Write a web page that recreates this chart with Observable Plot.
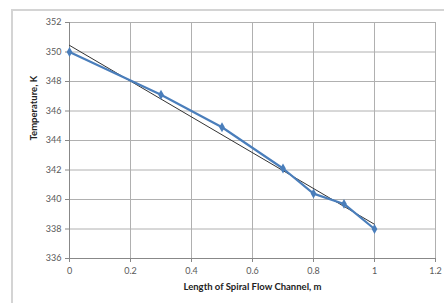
<!DOCTYPE html>
<html>
<head>
<meta charset="utf-8">
<script src="https://cdn.jsdelivr.net/npm/d3@7"></script>
<script src="https://cdn.jsdelivr.net/npm/@observablehq/plot@0.6"></script>
<style>
  html, body { margin: 0; padding: 0; background: #fff; }
  #wrap { position: relative; width: 444px; height: 303px; overflow: hidden; }
  #border { position: absolute; left: 11px; top: 9px; width: 460px; height: 320px; border: 2px solid #d4d4d4; box-sizing: border-box; }
  #chart { position: absolute; left: 0; top: 0; }
</style>
</head>
<body>
<div id="wrap"><div id="border"></div><div id="chart"></div></div>
<script>
const lengths = [0, 0.3, 0.5, 0.7, 0.8, 0.9, 1.0];
const temperatures = [350.0, 347.1, 344.9, 342.1, 340.4, 339.7, 338.0];
const xTicks = [0, 0.2, 0.4, 0.6, 0.8, 1, 1.2];
const yTicks = [336, 338, 340, 342, 344, 346, 348, 350, 352];
const xTitle = "Length of Spiral Flow Channel, m";
const yTitle = "Temperature, K";

const data = lengths.map((x, i) => ({x, y: temperatures[i]}));

const chart = Plot.plot({
  width: 444,
  height: 303,
  marginLeft: 69,
  marginRight: 9,
  marginTop: 22,
  marginBottom: 45,
  style: {fontFamily: "Lato, 'Open Sans', sans-serif", fontSize: "9px", background: "transparent", color: "#595959"},
  x: {domain: [0, 1.2], ticks: xTicks, tickFormat: d => String(d), tickSize: 4, label: null},
  y: {domain: [336, 352], ticks: yTicks, tickSize: 4, tickPadding: 4, label: null},
  marks: [
    Plot.gridX(xTicks, {stroke: "#b0b0b0", strokeOpacity: 1, strokeWidth: 1}),
    Plot.gridY(yTicks, {stroke: "#b0b0b0", strokeOpacity: 1, strokeWidth: 1}),
    Plot.axisX({ticks: xTicks, tickFormat: d => String(d), tickSize: 4, tickPadding: 5, stroke: "#888", fill: "#595959", label: null}),
    Plot.axisY({ticks: yTicks, tickSize: 4, tickPadding: 4, stroke: "#888", fill: "#595959", label: null}),
    Plot.ruleY([336], {stroke: "#888"}),
    Plot.ruleX([0], {stroke: "#888"}),
    Plot.linearRegressionY(data, {x: "x", y: "y", ci: 0, stroke: "#333", strokeWidth: 1}),
    Plot.line(data, {x: "x", y: "y", stroke: "#4a7ebb", strokeWidth: 2.2}),
    Plot.dot(data, {x: "x", y: "y", symbol: "diamond", r: 3, fill: "#4a7ebb", stroke: "none"}),
    Plot.text([xTitle], {frameAnchor: "bottom", dy: 31, fontWeight: "bold", fontSize: 9.5, fill: "#222"}),
    Plot.text([yTitle], {frameAnchor: "left", dx: -36, rotate: -90, fontWeight: "bold", fontSize: 9.5, fill: "#222"})
  ]
});
document.getElementById("chart").appendChild(chart);
</script>
</body>
</html>
